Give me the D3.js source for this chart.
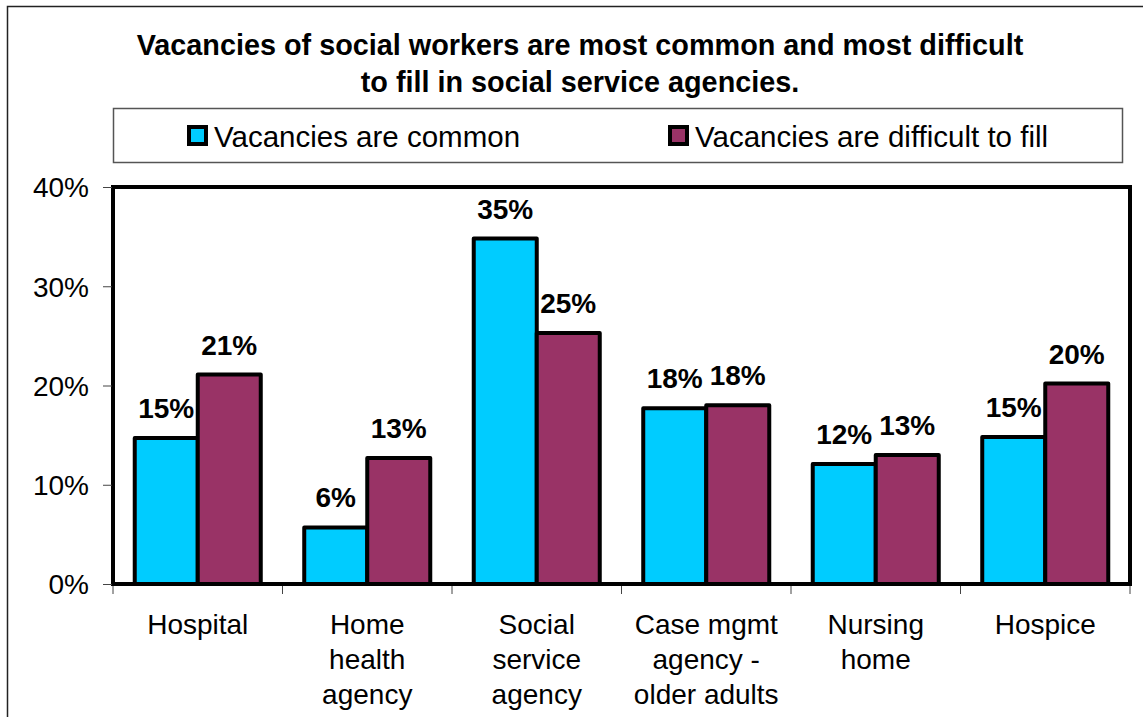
<!DOCTYPE html>
<html>
<head>
<meta charset="utf-8">
<script src="https://cdn.jsdelivr.net/npm/d3@7"></script>
<style>
  html, body { margin: 0; padding: 0; background: #fff; }
  svg { display: block; }
  text { font-family: "Liberation Sans", Arial, sans-serif; fill: #000; }
</style>
</head>
<body>
<svg id="chart" width="1143" height="717"></svg>
<script>
// Agency types (each label split into its display lines)
const categories = ["Hospital", "Home health agency", "Social service agency",
                    "Case mgmt agency - older adults", "Nursing home", "Hospice"];
const categoryLines = [["Hospital"], ["Home", "health", "agency"], ["Social", "service", "agency"],
                       ["Case mgmt", "agency -", "older adults"], ["Nursing", "home"], ["Hospice"]];

// Share of respondents per agency type
const seriesNames = ["Vacancies are common", "Vacancies are difficult to fill"];
const vacanciesCommon = [0.147, 0.057, 0.348, 0.177, 0.121, 0.148];
const vacanciesDifficult = [0.211, 0.127, 0.253, 0.180, 0.130, 0.202];
const seriesColors = ["#00CCFF", "#993366"];

const yTicks = [0, 0.1, 0.2, 0.3, 0.4];
const titleLines = ["Vacancies of social workers are most common and most difficult",
                    "to fill in social service agencies."];

const svg = d3.select("#chart");
const W = 1143, H = 717;
const plot = { left: 113, right: 1130, top: 187, bottom: 584 };

svg.append("rect").attr("width", W).attr("height", H).attr("fill", "#fff");

// Outer chart frame (runs past the visible area on the right and bottom)
svg.append("rect")
  .attr("x", 7.5).attr("y", 6.5).attr("width", 1150).attr("height", 740)
  .attr("fill", "none").attr("stroke", "#222").attr("stroke-width", 1.5);

// Title
const title = svg.append("text")
  .attr("text-anchor", "middle")
  .style("font-weight", "bold").style("font-size", "28.8px");
titleLines.forEach((line, i) => {
  title.append("tspan").attr("x", 580).attr("y", 55 + i * 37).text(line);
});

// Legend
svg.append("rect")
  .attr("x", 113.5).attr("y", 108.5).attr("width", 1009).attr("height", 54)
  .attr("fill", "#fff").attr("stroke", "#555").attr("stroke-width", 1.5);
const legendX = [187, 668];
seriesNames.forEach((name, i) => {
  svg.append("rect")
    .attr("x", legendX[i] + 2).attr("y", 127).attr("width", 17).attr("height", 17)
    .attr("fill", seriesColors[i]).attr("stroke", "#000").attr("stroke-width", 4);
  svg.append("text")
    .attr("x", legendX[i] + 27).attr("y", 147)
    .style("font-size", "29.5px").text(name);
});

// Scales
const x0 = d3.scaleBand().domain(categories).range([plot.left, plot.right]).padding(0);
const x1 = d3.scaleBand().domain(seriesNames).range([0, x0.bandwidth()])
  .paddingInner(0).paddingOuter(0.345);
const y = d3.scaleLinear().domain([0, 0.4]).range([plot.bottom, plot.top]);

const rows = categories.map((c, i) => ({
  category: c,
  values: [vacanciesCommon[i], vacanciesDifficult[i]]
}));

// Bars
const groups = svg.append("g").selectAll("g").data(rows).join("g")
  .attr("transform", d => `translate(${x0(d.category)},0)`);

groups.selectAll("rect")
  .data(d => d.values.map((v, k) => ({ key: seriesNames[k], value: v, k })))
  .join("rect")
  .attr("x", d => x1(d.key))
  .attr("y", d => y(d.value))
  .attr("width", x1.bandwidth())
  .attr("height", d => y(0) - y(d.value))
  .attr("fill", d => seriesColors[d.k])
  .attr("stroke", "#000").attr("stroke-width", 4)
  .attr("stroke-linejoin", "round");

// Value labels
const fmt = d3.format(".0%");
groups.selectAll("text.value")
  .data(d => d.values.map((v, k) => ({ key: seriesNames[k], value: v })))
  .join("text").attr("class", "value")
  .attr("x", d => x1(d.key) + x1.bandwidth() / 2)
  .attr("y", d => y(d.value) - 20)
  .attr("text-anchor", "middle")
  .style("font-weight", "bold").style("font-size", "28px")
  .text(d => fmt(d.value));

// Plot area border
svg.append("rect")
  .attr("x", plot.left).attr("y", plot.top)
  .attr("width", plot.right - plot.left).attr("height", plot.bottom - plot.top)
  .attr("fill", "none").attr("stroke", "#000").attr("stroke-width", 4);

// Y axis ticks and labels
const yAxis = d3.axisLeft(y).tickValues(yTicks).tickFormat(d3.format(".0%"))
  .tickSize(9).tickPadding(14);
const yg = svg.append("g").attr("transform", `translate(${plot.left - 1},0)`).call(yAxis);
yg.select(".domain").remove();
yg.selectAll(".tick line").attr("stroke", "#444").attr("stroke-width", 1);
yg.selectAll(".tick text")
  .style("font-size", "28px")
  .style("font-family", "'Liberation Sans', Arial, sans-serif")
  .attr("fill", "#000").attr("dy", "0.35em");

// X axis tick marks at category boundaries
const boundaries = categories.map(c => x0(c)).concat([plot.right]);
svg.append("g").selectAll("line").data(boundaries).join("line")
  .attr("x1", d => d).attr("x2", d => d)
  .attr("y1", plot.bottom + 2).attr("y2", plot.bottom + 10)
  .attr("stroke", "#444").attr("stroke-width", 1);

// Category labels
const catLabels = svg.append("g").selectAll("text").data(categories).join("text")
  .attr("text-anchor", "middle")
  .style("font-size", "28px");
catLabels.each(function(c, i) {
  const t = d3.select(this);
  categoryLines[i].forEach((line, j) => {
    t.append("tspan")
      .attr("x", x0(c) + x0.bandwidth() / 2)
      .attr("y", 634 + j * 35)
      .text(line);
  });
});
</script>
</body>
</html>
